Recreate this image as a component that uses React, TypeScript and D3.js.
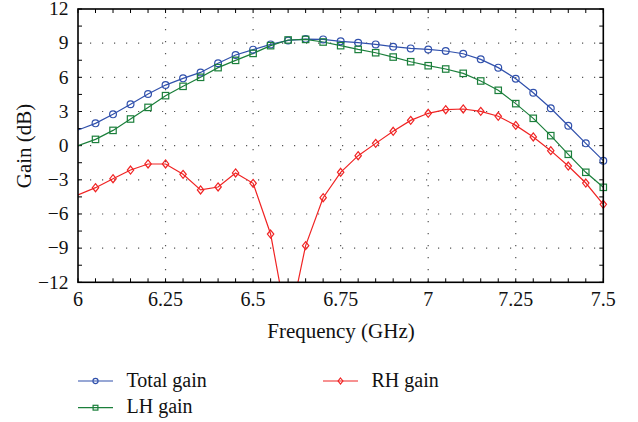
import React from "react";
import * as d3 from "d3";

const freqs = [6.0, 6.05, 6.1, 6.15, 6.2, 6.25, 6.3, 6.35, 6.4, 6.45, 6.5, 6.55, 6.6, 6.65, 6.7, 6.75, 6.8, 6.85, 6.9, 6.95, 7.0, 7.05, 7.1, 7.15, 7.2, 7.25, 7.3, 7.35, 7.4, 7.45, 7.5];
const totalGain = [1.37, 1.96, 2.75, 3.63, 4.53, 5.32, 5.91, 6.43, 7.23, 7.96, 8.43, 8.89, 9.24, 9.36, 9.33, 9.16, 9.04, 8.89, 8.69, 8.54, 8.45, 8.31, 8.07, 7.58, 6.85, 5.88, 4.65, 3.28, 1.75, 0.2, -1.32];
const lhGain = [0.0, 0.55, 1.34, 2.34, 3.36, 4.39, 5.21, 6.0, 6.85, 7.49, 8.1, 8.78, 9.28, 9.33, 9.1, 8.78, 8.45, 8.16, 7.78, 7.37, 7.02, 6.73, 6.35, 5.68, 4.86, 3.69, 2.4, 0.88, -0.76, -2.34, -3.66];
const rhGain = [-4.33, -3.69, -2.9, -2.14, -1.61, -1.61, -2.52, -3.89, -3.63, -2.4, -3.31, -7.76, -16.1, -8.78, -4.57, -2.34, -0.88, 0.2, 1.26, 2.22, 2.84, 3.16, 3.22, 3.01, 2.58, 1.78, 0.76, -0.44, -1.79, -3.28, -5.15];

const xTicks = [6, 6.25, 6.5, 6.75, 7, 7.25, 7.5];
const xTickLabels = ["6", "6.25", "6.5", "6.75", "7", "7.25", "7.5"];
const yTicks = [-12, -9, -6, -3, 0, 3, 6, 9, 12];
const yTickLabels = ["\u221212", "\u22129", "\u22126", "\u22123", "0", "3", "6", "9", "12"];
const xMinor = d3.range(6, 7.5001, 0.05);
const yMinor = d3.range(-12, 12.001, 1.5);

const seriesNames = ["Total gain", "LH gain", "RH gain"];
const seriesColors = ["#3151ac", "#1b7f3b", "#f02424"];
const seriesMarkers = ["circle", "square", "diamond"];
const seriesData = [totalGain, lhGain, rhGain];

const W = 638, H = 422;
const L = 78, R = 603.3, T = 9, B = 282.3;
const txtStyle = { fontFamily: "'Liberation Serif'" };

function Marker({ type, x, y, color, s = 1 }: { type: string; x: number; y: number; color: string; s?: number }) {
  if (type === "circle") return <circle cx={x} cy={y} r={3.4 * s} fill="none" stroke={color} strokeWidth={1.2} />;
  if (type === "square") {
    const h = 3.2 * s;
    return <rect x={x - h} y={y - h} width={2 * h} height={2 * h} fill="none" stroke={color} strokeWidth={1.2} />;
  }
  const w = 3.2 * s, hh = 4 * s;
  return <path d={`M${x},${y - hh}L${x + w},${y}L${x},${y + hh}L${x - w},${y}Z`} fill="none" stroke={color} strokeWidth={1.2} />;
}

export default function App() {
  const x = d3.scaleLinear().domain([6, 7.5]).range([L, R]);
  const y = d3.scaleLinear().domain([-12, 12]).range([B, T]);
  const line = d3.line<[number, number]>().x(d => x(d[0])).y(d => y(d[1]));

  const legendItems = [
    { i: 0, lx: 78, ly: 381 },
    { i: 1, lx: 78, ly: 407.7 },
    { i: 2, lx: 323, ly: 381 },
  ];

  return (
    <svg width={W} height={H} style={{ position: "absolute", left: 0, top: 0, background: "#fff" }}>
      <defs>
        <clipPath id="plotclip">
          <rect x={L} y={T} width={R - L} height={B - T} />
        </clipPath>
      </defs>
      {/* grid */}
      {xTicks.slice(1, -1).map((t, i) => (
        <line key={"gx" + i} x1={x(t)} x2={x(t)} y1={B} y2={T} stroke="#555" strokeWidth={1.2} strokeDasharray="1.2,10.8" />
      ))}
      {yTicks.slice(1, -1).map((t, i) => (
        <line key={"gy" + i} x1={L} x2={R} y1={y(t)} y2={y(t)} stroke="#555" strokeWidth={1.2} strokeDasharray="1.2,10.8" />
      ))}
      {/* ticks */}
      {xMinor.map((t, i) => (
        <g key={"xt" + i}>
          <line x1={x(t)} x2={x(t)} y1={B} y2={B - 4} stroke="#000" strokeWidth={1} />
          <line x1={x(t)} x2={x(t)} y1={T} y2={T + 4} stroke="#000" strokeWidth={1} />
        </g>
      ))}
      {yMinor.map((t, i) => (
        <g key={"yt" + i}>
          <line x1={L} x2={L + 4} y1={y(t)} y2={y(t)} stroke="#000" strokeWidth={1} />
          <line x1={R} x2={R - 4} y1={y(t)} y2={y(t)} stroke="#000" strokeWidth={1} />
        </g>
      ))}
      {/* series */}
      <g clipPath="url(#plotclip)">
        {seriesData.map((vals, si) => (
          <path key={"s" + si} d={line(freqs.map((f, k) => [f, vals[k]] as [number, number])) || ""} fill="none" stroke={seriesColors[si]} strokeWidth={1.2} />
        ))}
      </g>
      {seriesData.map((vals, si) => (
        <g key={"m" + si}>
          {freqs.map((f, k) =>
            f > 6.001 && vals[k] >= -12 ? (
              <Marker key={k} type={seriesMarkers[si]} x={x(f)} y={y(vals[k])} color={seriesColors[si]} />
            ) : null
          )}
        </g>
      ))}
      {/* frame */}
      <rect x={L} y={T} width={R - L} height={B - T} fill="none" stroke="#000" strokeWidth={1.6} />
      {/* tick labels */}
      {xTicks.map((t, i) => (
        <text key={"xl" + i} x={x(t)} y={305.5} textAnchor="middle" fontSize={20} fill="#111" style={txtStyle}>{xTickLabels[i]}</text>
      ))}
      {yTicks.map((t, i) => (
        <text key={"yl" + i} x={68.5} y={y(t) + 6.2} textAnchor="end" fontSize={19.5} fill="#111" style={txtStyle}>{yTickLabels[i]}</text>
      ))}
      <text x={341} y={338} textAnchor="middle" fontSize={21} fill="#111" style={txtStyle}>Frequency (GHz)</text>
      <text transform="translate(31,146) rotate(-90)" textAnchor="middle" fontSize={21} fill="#111" style={txtStyle}>Gain (dB)</text>
      {/* legend */}
      {legendItems.map(({ i, lx, ly }) => (
        <g key={"lg" + i}>
          <line x1={lx} x2={lx + 35} y1={ly} y2={ly} stroke={seriesColors[i]} strokeWidth={1.2} />
          <Marker type={seriesMarkers[i]} x={lx + 17.5} y={ly} color={seriesColors[i]} s={0.75} />
          <text x={lx + 48.5} y={ly + 5.5} fontSize={20} fill="#111" style={txtStyle}>{seriesNames[i]}</text>
        </g>
      ))}
    </svg>
  );
}
